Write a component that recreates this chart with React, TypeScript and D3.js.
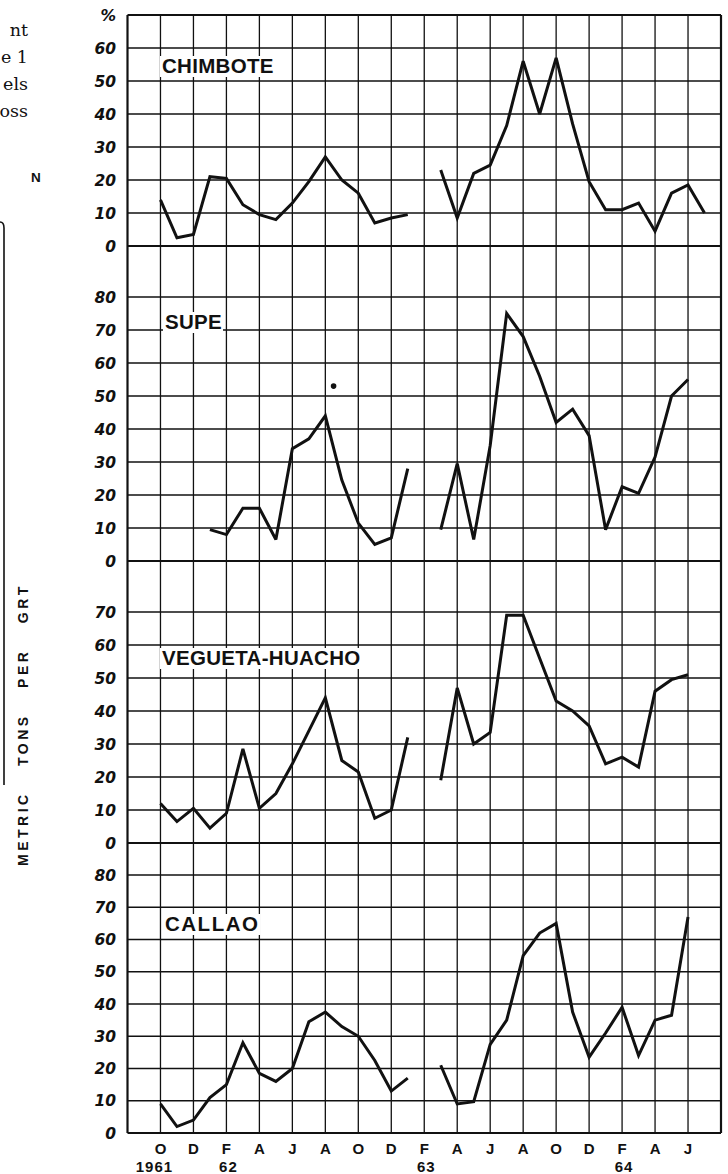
import React from 'react';
import { line, scaleLinear, select } from 'd3';

interface Pt {
  m: number;
  v: number;
}

// month index 0 = Aug 1961 (left frame), 36 = Aug 1964 (right frame)
const monthLabels = ['O', 'D', 'F', 'A', 'J', 'A', 'O', 'D', 'F', 'A', 'J', 'A', 'O', 'D', 'F', 'A', 'J'];
const yearLabels = ['1961', '62', '63', '64'];
const yearMonths = [2, 6, 18, 30];

const stations = ['CHIMBOTE', 'SUPE', 'VEGUETA-HUACHO', 'CALLAO'];

const chimboteTicks = [0, 10, 20, 30, 40, 50, 60];
const supeTicks = [0, 10, 20, 30, 40, 50, 60, 70, 80];
const veguetaTicks = [0, 10, 20, 30, 40, 50, 60, 70];
const callaoTicks = [0, 10, 20, 30, 40, 50, 60, 70, 80];

// Oct 1961 - Jan 1963
const chimbote1 = [14, 2.5, 3.5, 21, 20.5, 12.5, 9.5, 8, 13, 19.5, 27, 20, 16, 7, 8.5, 9.5];
// Mar 1963 - Jul 1964
const chimbote2 = [23, 8.5, 22, 24.5, 36.5, 56, 40, 57, 37, 19.5, 11, 11, 13, 4.5, 16, 18.5, 10];

// Jan 1962 - Jan 1963
const supe1 = [9.5, 8, 16, 16, 6.5, 34, 37, 44, 24.5, 11.5, 5, 7, 28];
// Mar 1963 - Jun 1964
const supe2 = [9.5, 29.5, 6.5, 35, 75, 68, 56, 42, 46, 38, 9.5, 22.5, 20.5, 31.5, 50, 55];
const supeDot = [{ m: 12.5, v: 53 }];

// Oct 1961 - Jan 1963
const vegueta1 = [12, 6.5, 10.5, 4.5, 9, 28.5, 10.5, 15, 24, 34, 44, 25, 21.5, 7.5, 10, 32];
// Mar 1963 - Jun 1964
const vegueta2 = [19, 47, 30, 33.5, 69, 69, 56, 43, 40, 35.5, 24, 26, 23, 46, 49.5, 51];

// Oct 1961 - Jan 1963
const callao1 = [9, 2, 4, 11, 15, 28, 18.5, 16, 20, 34.5, 37.5, 33, 30, 22.5, 13, 17];
// Mar 1963 - Jun 1964
const callao2 = [21, 9, 9.7, 27.5, 35, 55, 62, 65, 37.5, 23.5, 31, 39, 24, 35, 36.5, 67];

const toPts = (vals: number[], start: number): Pt[] => vals.map((v, i) => ({ m: start + i, v }));

const App: React.FC = () => {
  const svgRef = React.useRef<SVGSVGElement>(null);

  const dims = {
    width: 728,
    height: 1174,
    left: 127.5,
    right: 721,
    top: 15,
    bottom: 1133,
  };

  const x = scaleLinear().domain([0, 36]).range([dims.left, dims.right]);

  // each panel has its own y scale (0 line and top line in px)
  const panels = [
    { name: stations[0], ticks: chimboteTicks, max: 70, y0: 246, y1: 15, segs: [toPts(chimbote1, 2), toPts(chimbote2, 19)], lx: 162, ly: 73 },
    { name: stations[1], ticks: supeTicks, max: 80, y0: 561, y1: 297, segs: [toPts(supe1, 5), toPts(supe2, 19)], lx: 165, ly: 329 },
    { name: stations[2], ticks: veguetaTicks, max: 70, y0: 843, y1: 612, segs: [toPts(vegueta1, 2), toPts(vegueta2, 19)], lx: 162, ly: 665 },
    { name: stations[3], ticks: callaoTicks, max: 80, y0: 1133, y1: 875, segs: [toPts(callao1, 2), toPts(callao2, 19)], lx: 165, ly: 931 },
  ];

  React.useEffect(() => {
    const svg = select(svgRef.current);
    svg.selectAll('*').remove();
    const ink = '#111';

    // vertical grid, every 2 months
    const vGrid = svg.append('g');
    for (let m = 0; m <= 36; m += 2) {
      vGrid
        .append('line')
        .attr('x1', x(m))
        .attr('x2', x(m))
        .attr('y1', dims.top)
        .attr('y2', dims.bottom)
        .attr('stroke', ink)
        .attr('stroke-width', m === 0 || m === 36 ? 2.2 : 1.3);
    }

    panels.forEach((p, pi) => {
      const y = scaleLinear().domain([0, p.max]).range([p.y0, p.y1]);
      const g = svg.append('g');
      const lines = pi === 0 ? [...p.ticks, 70] : p.ticks;

      g.selectAll('line.h')
        .data(lines)
        .join('line')
        .attr('class', 'h')
        .attr('x1', dims.left)
        .attr('x2', dims.right)
        .attr('y1', d => y(d))
        .attr('y2', d => y(d))
        .attr('stroke', ink)
        .attr('stroke-width', d => (d === 0 || (d === 70 && pi === 0) ? 2 : 1.4));

      g.selectAll('text.yl')
        .data(lines)
        .join('text')
        .attr('class', 'yl')
        .attr('x', 116)
        .attr('y', d => y(d))
        .attr('dy', '0.36em')
        .attr('text-anchor', 'end')
        .attr('font-family', 'DejaVu Sans, sans-serif')
        .attr('font-weight', 'bold')
        .attr('font-style', 'italic')
        .attr('font-size', 15.5)
        .attr('fill', ink)
        .text(d => (pi === 0 && d === 70 ? '%' : String(d)));

      // station label on a white patch
      const label = g
        .append('text')
        .attr('x', p.lx)
        .attr('y', p.ly)
        .attr('font-family', 'Liberation Sans, Arial, sans-serif')
        .attr('font-weight', 'bold')
        .attr('font-size', 20.5)
        .attr('letter-spacing', pi === 3 ? 1.5 : 0.3)
        .attr('fill', ink)
        .text(p.name);
      const bb = (label.node() as SVGTextElement).getBBox();
      g.insert('rect', 'text:last-of-type')
        .attr('x', bb.x - 2)
        .attr('y', bb.y + 2)
        .attr('width', bb.width + 3)
        .attr('height', bb.height - 2)
        .attr('fill', '#fff');

      const path = line<Pt>()
        .x(d => x(d.m))
        .y(d => y(d.v));

      g.selectAll('path.series')
        .data(p.segs)
        .join('path')
        .attr('class', 'series')
        .attr('d', d => path(d))
        .attr('fill', 'none')
        .attr('stroke', ink)
        .attr('stroke-width', 3)
        .attr('stroke-linejoin', 'miter')
        .attr('stroke-miterlimit', 3);

      if (pi === 1) {
        g.selectAll('circle')
          .data(supeDot)
          .join('circle')
          .attr('cx', d => x(d.m))
          .attr('cy', d => y(d.v))
          .attr('r', 2.8)
          .attr('fill', ink);
      }
    });

    // x axis labels
    svg
      .append('g')
      .selectAll('text')
      .data(monthLabels)
      .join('text')
      .attr('x', (d, i) => x(2 + i * 2))
      .attr('y', 1154)
      .attr('text-anchor', 'middle')
      .attr('font-family', 'Liberation Sans, Arial, sans-serif')
      .attr('font-weight', 'bold')
      .attr('font-size', 15)
      .attr('fill', ink)
      .text(d => d);

    svg
      .append('g')
      .selectAll('text')
      .data(yearLabels)
      .join('text')
      .attr('x', (d, i) => x(yearMonths[i]) + (i === 0 ? -6 : 2))
      .attr('y', 1172)
      .attr('text-anchor', 'middle')
      .attr('font-family', 'Liberation Sans, Arial, sans-serif')
      .attr('font-weight', 'bold')
      .attr('font-size', 15)
      .attr('letter-spacing', 1)
      .attr('fill', ink)
      .text(d => d);

    // bits of the neighbouring page on the left
    const side = svg.append('g').attr('fill', ink);
    ['nt', 'e 1', 'els', 'oss'].forEach((t, i) => {
      side
        .append('text')
        .attr('x', 28)
        .attr('y', 36 + i * 27)
        .attr('text-anchor', 'end')
        .attr('font-family', 'DejaVu Serif, serif')
        .attr('font-size', 17.5)
        .text(t);
    });
    side
      .append('text')
      .attr('x', 31)
      .attr('y', 182)
      .attr('font-family', 'Liberation Sans, Arial, sans-serif')
      .attr('font-weight', 'bold')
      .attr('font-size', 13.5)
      .text('N');
    side
      .append('path')
      .attr('d', 'M0,222 Q4,222 4,228 V785')
      .attr('fill', 'none')
      .attr('stroke', ink)
      .attr('stroke-width', 1.6);
    side
      .append('text')
      .attr('transform', 'translate(28,866) rotate(-90)')
      .attr('text-anchor', 'start')
      .attr('font-family', 'Liberation Sans, Arial, sans-serif')
      .attr('font-weight', 'bold')
      .attr('font-size', 14)
      .attr('letter-spacing', 3.5)
      .attr('word-spacing', 18)
      .text('METRIC TONS PER GRT');
  }, []);

  return (
    <div style={{ position: 'absolute', left: 0, top: 0, background: '#fff' }}>
      <svg ref={svgRef} width={dims.width} height={dims.height} style={{ display: 'block' }}></svg>
    </div>
  );
};

export default App;
